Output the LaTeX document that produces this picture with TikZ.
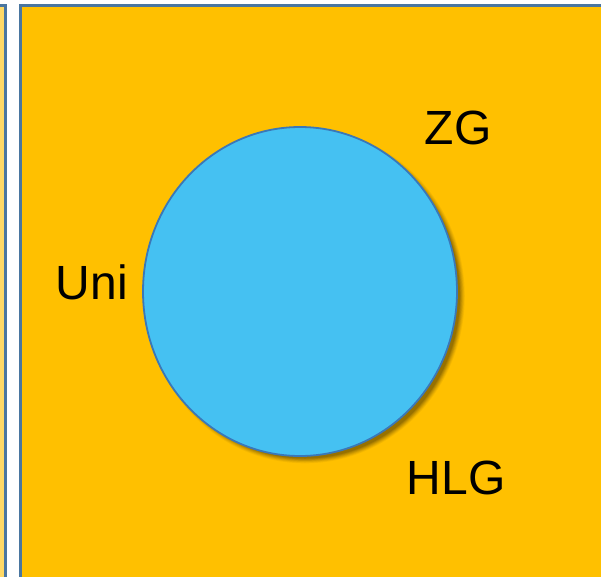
\documentclass[tikz,border=0pt]{standalone}
\usepackage{fontspec}
\setmainfont{Liberation Sans}
\usetikzlibrary{shapes.geometric}
\definecolor{orng}{HTML}{FFC000}
\definecolor{lyel}{HTML}{FFD966}
\definecolor{frame}{HTML}{4A76A0}
\definecolor{cfill}{HTML}{45C1F2}
\definecolor{cline}{HTML}{3A78B8}
\tikzset{
  lbl/.style={font=\fontsize{48}{52}\selectfont, text=black, anchor=base, inner sep=0pt},
  panel/.style={draw=frame, line width=3.2pt},
}
\begin{document}
\begin{tikzpicture}[x=1pt,y=-1pt]
\useasboundingbox (0,0) rectangle (601,576);
\fill[white] (0,0) rectangle (601,576);
% left strip
\fill[lyel] (0,5.5) rectangle (5.5,580);
\draw[panel] (-5,5.5) -- (5.5,5.5) -- (5.5,580);
% main panel
\fill[orng] (20.5,5.5) rectangle (610,580);
\draw[panel] (610,5.5) -- (20.5,5.5) -- (20.5,580);
% shadow
\foreach \s/\o in {12/0.04,10/0.05,8/0.06,6/0.07,4/0.08,2/0.09,0/0.10}{
  \fill[black,opacity=\o] (305,296) ellipse [x radius=155+\s*0.4, y radius=162.5+\s*0.4];
}
\node[ellipse, fill=cfill, draw=cline, line width=1.8pt, minimum width=314pt, minimum height=329pt, inner sep=0pt] (c) at (300,291.5) {};
\node[lbl] (zg) at (458,144.5) {ZG};
\node[lbl] (uni) at (92,299.5) {Uni};
\node[lbl] (hlg) at (456,494.5) {HLG};
\end{tikzpicture}
\end{document}
